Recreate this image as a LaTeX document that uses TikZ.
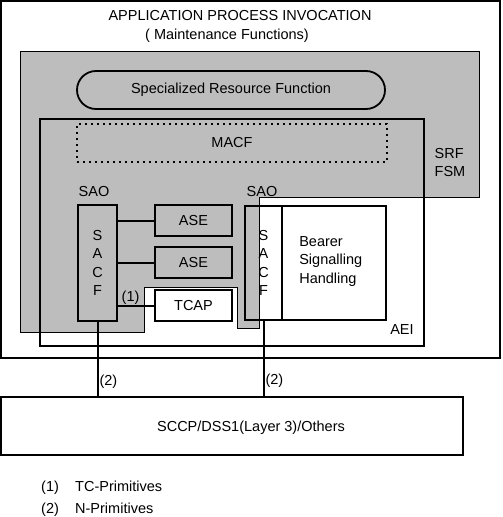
\documentclass[tikz,border=0pt]{standalone}
\usepackage{fontspec}
\setmainfont{Liberation Sans}
\setsansfont{Liberation Sans}
\usetikzlibrary{positioning, calc}
\definecolor{cshade}{gray}{0.74}
\tikzset{
  every picture/.style={font=\sffamily\fontsize{14.5}{18.5}\selectfont, x=1pt, y=-1pt},
  size/.style 2 args={minimum width=#1pt, minimum height=#2pt},
  box/.style={draw, line width=1.8pt, inner sep=0pt},
  thinbox/.style={draw, line width=1.3pt, inner sep=0pt},
  macf/.style={draw, line width=2.4pt, dash pattern=on 2.4pt off 3.6pt, inner sep=0pt},
  link/.style={draw, line width=2pt},
  tag/.style={inner sep=1pt},
  key/.style={anchor=base west, inner sep=0pt},
}

\begin{document}
\begin{tikzpicture}
  \useasboundingbox (0,0) rectangle (503,517);
  \node[box, line width=2.2pt, size={499}{357}] (api) at (250.5,179.5) {};
  \node (apititle) at (240,16) {APPLICATION PROCESS INVOCATION};
  \node (apisub) at (227,36) {( Maintenance Functions)};
  \filldraw[fill=cshade, line width=0.8pt] (20,51) -- (479,51) -- (479,197) -- (259,197) -- (259,328)
    -- (237,328) -- (237,287) -- (144,287) -- (144,332) -- (20,332) -- cycle;
  \node[thinbox, size={384}{227}] (aei) at (232,232.5) {};
  \node (aeilabel) at (402,330) {AEI};
  \node[box, size={308}{38}, rounded corners=19pt] (srf) at (231,90) {Specialized Resource Function};
  \node[macf, size={310}{38}] (macfbox) at (232,143) {MACF};
  \node[align=left] (fsm) at (450,162.5) {SRF\\FSM};
  % left SAO
  \node (saol) at (94,192) {SAO};
  \node[box, size={39}{116}, align=center] (sacfl) at (97.5,263) {S\\A\\C\\F};
  \node[box, size={77}{31}] (ase1) at (193.5,220.5) {ASE};
  \node[box, size={77}{31}] (ase2) at (193.5,262.5) {ASE};
  \node[box, size={77}{31}, fill=white] (tcap) at (193.5,305.5) {TCAP};
  \draw[link] (sacfl.east |- ase1.west) -- (ase1.west);
  \draw[link] (sacfl.east |- ase2.west) -- (ase2.west);
  \draw[link] (sacfl.east |- tcap.west) -- node[pos=0.35, above, inner sep=0pt] {(1)} (tcap.west);
  % right SAO
  \node (saor) at (262,192) {SAO};
  \node[box, size={37}{114}, align=center] (sacfr) at (263.5,263) {S\\A\\C\\F};
  \node[box, size={104}{114}] (bsh) at (334,263) {};
  \node[anchor=west, align=left, inner sep=0pt] (bshtext) at ([xshift=18pt,yshift=1.5pt]bsh.west) {Bearer\\Signalling\\Handling};
  % network layer
  \node[box, size={462}{58}] (sccp) at (232,426) {};
  \node (sccptext) at (251,428) {SCCP/DSS1(Layer 3)/Others};
  \draw[link] (sacfl.south) -- node[pos=0.8, right, tag] {(2)} (sacfl.south |- sccp.north);
  \draw[link] (sacfr.south) -- node[pos=0.8, right, tag] {(2)} (sacfr.south |- sccp.north);
  % key
  \node[key] (key1) at (41,491) {(1)};
  \node[key] (key1text) at (75,491) {TC-Primitives};
  \node[key] (key2) at (41,513) {(2)};
  \node[key] (key2text) at (75,513) {N-Primitives};
\end{tikzpicture}
\end{document}
